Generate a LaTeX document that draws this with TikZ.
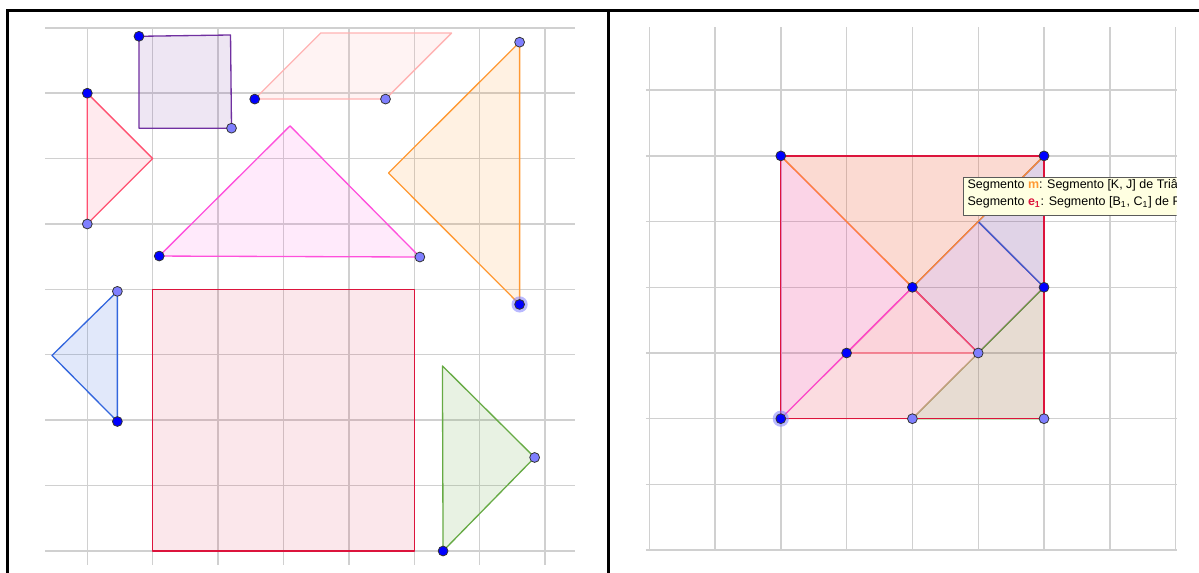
\documentclass[tikz,border=0pt]{standalone}
\usepackage{fontspec}
\setmainfont{Liberation Sans}

\definecolor{gitter}{RGB}{208,208,208}
\definecolor{karmin}{RGB}{220,20,60}
\definecolor{lila}{RGB}{112,48,160}
\definecolor{rot}{RGB}{255,80,112}
\definecolor{lachs}{RGB}{255,178,178}
\definecolor{magenta}{RGB}{255,80,220}
\definecolor{orange}{RGB}{255,153,51}
\definecolor{blau}{RGB}{51,102,221}
\definecolor{gruen}{RGB}{102,170,68}
\definecolor{punktblau}{RGB}{0,0,255}
\definecolor{punkthellblau}{RGB}{127,127,255}
\definecolor{punktrand}{RGB}{50,50,50}
\definecolor{tippgelb}{RGB}{255,255,225}
\definecolor{tipprand}{RGB}{90,90,90}

\begin{document}
\begin{tikzpicture}[
		line join=round,
		rahmen/.style={line width=1.7pt, line join=miter},
		gitterlinie/.style={draw=gitter, line width=0.8pt},
		teil/.style={line width=0.75pt},
		quadratgross/.style={teil, draw=karmin, fill=karmin, fill opacity=0.1},
		quadratlila/.style={teil, draw=lila, fill=lila, fill opacity=0.12},
		dreieckrot/.style={teil, draw=rot, fill=rot, fill opacity=0.12},
		parallelo/.style={teil, draw=lachs, fill=lachs, fill opacity=0.16},
		dreieckmagenta/.style={teil, draw=magenta, fill=magenta, fill opacity=0.12},
		dreieckorange/.style={teil, draw=orange, fill=orange, fill opacity=0.14},
		dreieckblau/.style={teil, draw=blau, fill=blau, fill opacity=0.15},
		dreieckgruen/.style={teil, draw=gruen, fill=gruen, fill opacity=0.15},
		punkt/.style={fill=punktblau, draw=punktrand, line width=0.45pt},
		punkthell/.style={fill=punkthellblau, draw=punktrand, line width=0.45pt},
		halo/.style={fill=punkthellblau, fill opacity=0.55},
		tipp/.style={font=\fontsize{7.1}{8.5}\selectfont, anchor=base west, inner sep=0pt}
	]
		
		\useasboundingbox (0,0) rectangle (23.98,11.46);
		
		% ----- Rahmen -----
		\draw[rahmen] (0.15,0) -- (0.15,11.24) -- (23.98,11.24);
		\draw[rahmen] (12.17,0) -- (12.17,11.24);
		
		% ----- Teile einzeln -----
		\begin{scope}[shift={(1.746cm,0.44cm)}, x=1.308cm, y=1.308cm]
			
			% Gitter
			\draw[gitterlinie, step=1] (-0.64,-0.21) grid (7.46,8);
			
			% Quadrat
			\filldraw[quadratlila] (0.79,7.87) -- (2.19,7.89) -- (2.205,6.465) -- (0.79,6.465) -- cycle;
			
			% kleines Dreieck rot
			\filldraw[dreieckrot] (0,7) -- (1,6) -- (0,5) -- cycle;
			
			% Parallelogramm
			\filldraw[parallelo] (2.56,6.91) -- (3.57,7.92) -- (5.57,7.92) -- (4.56,6.91) -- cycle;
			
			% grosse Dreiecke
			\filldraw[dreieckmagenta] (1.10,4.51) -- (3.10,6.50) -- (5.085,4.495) -- cycle;
			\filldraw[dreieckorange] (6.61,7.78) -- (4.605,5.78) -- (6.61,3.77) -- cycle;
			
			% kleines Dreieck blau
			\filldraw[dreieckblau] (0.46,3.97) -- (-0.54,2.99) -- (0.46,1.98) -- cycle;
			
			% grosses Quadrat
			\filldraw[quadratgross] (1,0) rectangle (5,4);
			
			% mittleres Dreieck gruen
			\filldraw[dreieckgruen] (5.43,2.83) -- (6.84,1.43) -- (5.44,0) -- cycle;
			
			% Punkte
			\fill[halo] (6.61,3.77) circle[radius=4.6pt];
			\filldraw[punkt] (0.79,7.87) circle[radius=2.8pt];
			\filldraw[punkthell] (2.205,6.465) circle[radius=2.8pt];
			\filldraw[punkt] (0,7) circle[radius=2.8pt];
			\filldraw[punkthell] (0,5) circle[radius=2.8pt];
			\filldraw[punkt] (2.56,6.91) circle[radius=2.8pt];
			\filldraw[punkthell] (4.56,6.91) circle[radius=2.8pt];
			\filldraw[punkt] (1.10,4.51) circle[radius=2.8pt];
			\filldraw[punkthell] (5.085,4.495) circle[radius=2.8pt];
			\filldraw[punkthell] (6.61,7.78) circle[radius=2.8pt];
			\filldraw[punkt] (6.61,3.77) circle[radius=2.8pt];
			\filldraw[punkthell] (0.46,3.97) circle[radius=2.8pt];
			\filldraw[punkt] (0.46,1.98) circle[radius=2.8pt];
			\filldraw[punkthell] (6.84,1.43) circle[radius=2.8pt];
			\filldraw[punkt] (5.44,0) circle[radius=2.8pt];
			
		\end{scope}
		
		% ----- Tangram zusammengesetzt -----
		\begin{scope}[shift={(12.984cm,0.458cm)}, x=1.316cm, y=1.314cm]
			
			% Gitter
			\draw[gitterlinie, step=1] (-0.05,0) grid (8.02,7.96);
			
			\begin{scope}[shift={(2,2)}]
				
				% Teile
				\filldraw[quadratlila] (2,2) -- (3,3) -- (4,2) -- (3,1) -- cycle;
				\filldraw[dreieckblau] (3,3) -- (4,4) -- (4,2) -- cycle;
				\filldraw[dreieckrot] (1,1) -- (2,2) -- (3,1) -- cycle;
				\filldraw[dreieckgruen] (4,2) -- (4,0) -- (2,0) -- cycle;
				\filldraw[parallelo, draw opacity=0.55] (0,0) -- (1,1) -- (3,1) -- (2,0) -- cycle;
				\filldraw[dreieckmagenta] (0,4) -- (0,0) -- (2,2) -- cycle;
				\filldraw[dreieckorange] (0,4) -- (4,4) -- (2,2) -- cycle;
				\filldraw[quadratgross] (0,0) rectangle (4,4);
				
				% Punkte
				\fill[halo] (0,0) circle[radius=4.6pt];
				\filldraw[punkt] (0,4) circle[radius=2.8pt];
				\filldraw[punkt] (4,4) circle[radius=2.8pt];
				\filldraw[punkt] (2,2) circle[radius=2.8pt];
				\filldraw[punkt] (4,2) circle[radius=2.8pt];
				\filldraw[punkt] (1,1) circle[radius=2.8pt];
				\filldraw[punkt] (0,0) circle[radius=2.8pt];
				\filldraw[punkthell] (3,1) circle[radius=2.8pt];
				\filldraw[punkthell] (2,0) circle[radius=2.8pt];
				\filldraw[punkthell] (4,0) circle[radius=2.8pt];
				
			\end{scope}
		\end{scope}
		
		% ----- Tooltip -----
		\begin{scope}
			\clip (19.1,7.0) rectangle (23.534,8.0);
			\filldraw[fill=tippgelb, draw=tipprand, line width=0.5pt] (19.266,7.154) rectangle (23.8,7.914);
			\node[tipp] (zeileeins) at (19.346,7.68) {Segmento \textcolor{orange}{\textbf{m}}: Segmento [K, J] de Triâ};
			\node[tipp] (zeilezwei) at (19.346,7.35) {Segmento \textcolor{karmin}{\textbf{e\textsubscript{1}}}: Segmento [B\textsubscript{1}, C\textsubscript{1}] de P};
		\end{scope}
		
	\end{tikzpicture}
\end{document}
